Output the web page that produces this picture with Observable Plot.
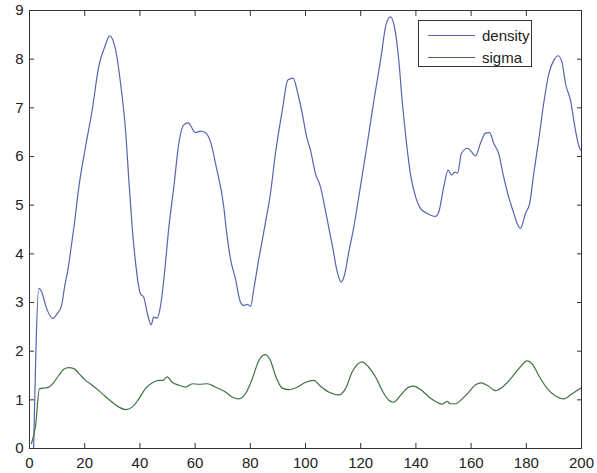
<!DOCTYPE html>
<html>
<head>
<meta charset="utf-8">
<script src="https://cdn.jsdelivr.net/npm/d3@7"></script>
<script src="https://cdn.jsdelivr.net/npm/@observablehq/plot@0.6"></script>
<style>
  html, body { margin: 0; padding: 0; background: #fff; }
  #wrap { position: relative; width: 597px; height: 473px; font-family: "Liberation Sans", Arial, sans-serif; }
  #legend { position: absolute; left: 418px; top: 20px; width: 114px; height: 47px; border: 1px solid #333; background: #fff; box-sizing: border-box; font-size: 15px; color: #222; }
  .row { position: absolute; left: 9px; height: 18px; display: flex; align-items: center; }
  .sw { width: 47px; height: 0; border-top: 1.2px solid; margin-right: 7px; }
</style>
</head>
<body>
<div id="wrap"></div>
<script>
const seriesNames = ["density", "sigma"];
const seriesColors = ["#5565b0", "#3f7240"];

const densityX = [1.5, 3.4, 4.4, 6.0, 8.5, 10, 11.5, 12.8, 14, 15.1, 16.1, 17.9, 20.3, 22.7, 25.1, 27.5, 29, 31.2, 33, 34.8, 36, 37.2, 38.4, 40.2, 41.4, 42.6, 44.1, 45, 46.3, 47.5, 48.7, 50.5, 52.3, 54.1, 55.9, 57.5, 60.1, 62, 63.8, 65.6, 67.6, 70.4, 71.2, 72.8, 74.6, 76.4, 77.6, 78.9, 80.1, 81.3, 83.1, 85.2, 87.3, 89.1, 91.6, 93.6, 95.5, 97.2, 98.8, 100.4, 101.8, 103.6, 105.4, 107.2, 108.4, 109.7, 111.5, 112.9, 114.1, 115.7, 117.5, 119.9, 122.4, 124.8, 127.2, 129.3, 130.8, 132.2, 133.8, 135, 136.2, 138, 139.9, 141.7, 144.1, 147.1, 148.3, 150.1, 151.7, 152.9, 154.1, 155.1, 156.5, 158.6, 160.1, 161.6, 163.4, 165.2, 166.7, 168.2, 170, 171.8, 173.6, 175.5, 176.7, 177.9, 179.7, 181.2, 182.7, 184.5, 186.3, 188.2, 190, 191.6, 193, 194.2, 196, 197.8, 199.3, 200];
const densityY = [0.0, 3.29, 3.22, 2.91, 2.67, 2.77, 2.91, 3.35, 3.70, 4.14, 4.55, 5.38, 6.2, 6.95, 7.85, 8.29, 8.48, 8.19, 7.5, 6.54, 5.51, 4.55, 3.83, 3.18, 3.11, 2.80, 2.54, 2.70, 2.68, 2.94, 3.49, 4.55, 5.38, 6.27, 6.65, 6.69, 6.49, 6.52, 6.49, 6.30, 5.80, 4.96, 4.55, 3.90, 3.49, 3.01, 2.94, 2.96, 2.92, 3.29, 3.90, 4.55, 5.24, 6.06, 6.95, 7.57, 7.61, 7.30, 6.89, 6.41, 6.13, 5.65, 5.38, 4.90, 4.55, 4.18, 3.63, 3.42, 3.56, 4.04, 4.55, 5.38, 6.27, 7.16, 7.98, 8.74, 8.87, 8.67, 7.98, 7.16, 6.48, 5.65, 5.17, 4.93, 4.83, 4.77, 4.86, 5.38, 5.72, 5.62, 5.68, 5.66, 6.06, 6.17, 6.10, 6.01, 6.27, 6.48, 6.49, 6.27, 6.06, 5.58, 5.17, 4.83, 4.62, 4.53, 4.83, 5.03, 5.65, 6.34, 7.09, 7.71, 7.98, 8.07, 7.92, 7.50, 7.16, 6.54, 6.17, 6.12];

const sigmaX = [0.7, 2.2, 3.6, 5.2, 7, 8.8, 10.6, 12.4, 14.2, 16.1, 17.9, 20.3, 22.7, 25.1, 27.5, 30, 32.4, 34.8, 37.2, 39.6, 42, 44.5, 46.9, 48.3, 49.9, 51.7, 54.1, 56.5, 59, 61.3, 64.4, 67.4, 71, 73.4, 75.8, 78.3, 80.7, 83.1, 85.3, 87.3, 89.1, 91.6, 94, 97, 100, 103, 105.4, 108.4, 112.1, 114.5, 116.9, 120.5, 122.9, 125.4, 127.8, 130.2, 131.8, 135, 137.4, 139.2, 141.7, 144.7, 147.7, 149.5, 151.3, 152.5, 154.3, 156.8, 159.2, 161.6, 163.8, 165.8, 168.8, 171.3, 174.3, 177.3, 180.3, 182.1, 184.5, 187.6, 190.6, 193.7, 196, 198.4, 200];
const sigmaY = [0.1, 0.47, 1.23, 1.24, 1.26, 1.36, 1.50, 1.63, 1.66, 1.64, 1.54, 1.40, 1.30, 1.19, 1.07, 0.95, 0.85, 0.80, 0.85, 1.02, 1.23, 1.35, 1.40, 1.40, 1.47, 1.36, 1.30, 1.26, 1.33, 1.32, 1.33, 1.26, 1.16, 1.06, 1.02, 1.13, 1.43, 1.81, 1.93, 1.81, 1.50, 1.24, 1.21, 1.26, 1.36, 1.40, 1.28, 1.16, 1.10, 1.23, 1.57, 1.78, 1.67, 1.47, 1.19, 0.99, 0.95, 1.13, 1.26, 1.28, 1.21, 1.06, 0.95, 0.91, 0.97, 0.92, 0.92, 1.02, 1.16, 1.31, 1.35, 1.30, 1.19, 1.26, 1.43, 1.64, 1.80, 1.74, 1.50, 1.23, 1.08, 1.02, 1.10, 1.19, 1.25];

const xTicks = [0, 20, 40, 60, 80, 100, 120, 140, 160, 180, 200];
const yTicks = [0, 1, 2, 3, 4, 5, 6, 7, 8, 9];

const density = densityX.map((x, i) => ({x, y: densityY[i]}));
const sigma = sigmaX.map((x, i) => ({x, y: sigmaY[i]}));

const W = 597, H = 473;
const mL = 29, mR = 16, mT = 10, mB = 25;
const tk = 5;
const noLabel = () => "";

const chart = Plot.plot({
  width: W, height: H,
  marginLeft: mL, marginRight: mR, marginTop: mT, marginBottom: mB,
  style: {fontFamily: '"Liberation Sans", Arial, sans-serif', fontSize: "15px", color: "#222", background: "#fff"},
  x: {domain: [0, 200]},
  y: {domain: [0, 9]},
  marks: [
    Plot.axisX(xTicks, {tickSize: 0, tickPadding: 9, label: null, fontSize: 15}),
    Plot.axisY(yTicks, {tickSize: 0, tickPadding: 6, label: null, fontSize: 15}),
    // inward ticks on all four sides (MATLAB box style)
    Plot.axisX(xTicks, {anchor: "bottom", tickSize: -tk, tickFormat: noLabel, label: null, stroke: "#333"}),
    Plot.axisX(xTicks, {anchor: "top", tickSize: -tk, tickFormat: noLabel, label: null, stroke: "#333"}),
    Plot.axisY(yTicks, {anchor: "left", tickSize: -tk, tickFormat: noLabel, label: null, stroke: "#333"}),
    Plot.axisY(yTicks, {anchor: "right", tickSize: -tk, tickFormat: noLabel, label: null, stroke: "#333"}),
    Plot.line(density, {x: "x", y: "y", stroke: seriesColors[0], strokeWidth: 1.2, curve: "monotone-x"}),
    Plot.line(sigma, {x: "x", y: "y", stroke: seriesColors[1], strokeWidth: 1.2, curve: "monotone-x"}),
    Plot.frame({stroke: "#333"})
  ]
});

const wrap = document.getElementById("wrap");
wrap.appendChild(chart);

const legend = document.createElement("div");
legend.id = "legend";
seriesNames.forEach((name, i) => {
  const row = document.createElement("div");
  row.className = "row";
  row.style.top = (5 + i * 22) + "px";
  const sw = document.createElement("span");
  sw.className = "sw";
  sw.style.borderTopColor = seriesColors[i];
  const t = document.createElement("span");
  t.textContent = name;
  row.appendChild(sw);
  row.appendChild(t);
  legend.appendChild(row);
});
wrap.appendChild(legend);
</script>
</body>
</html>
